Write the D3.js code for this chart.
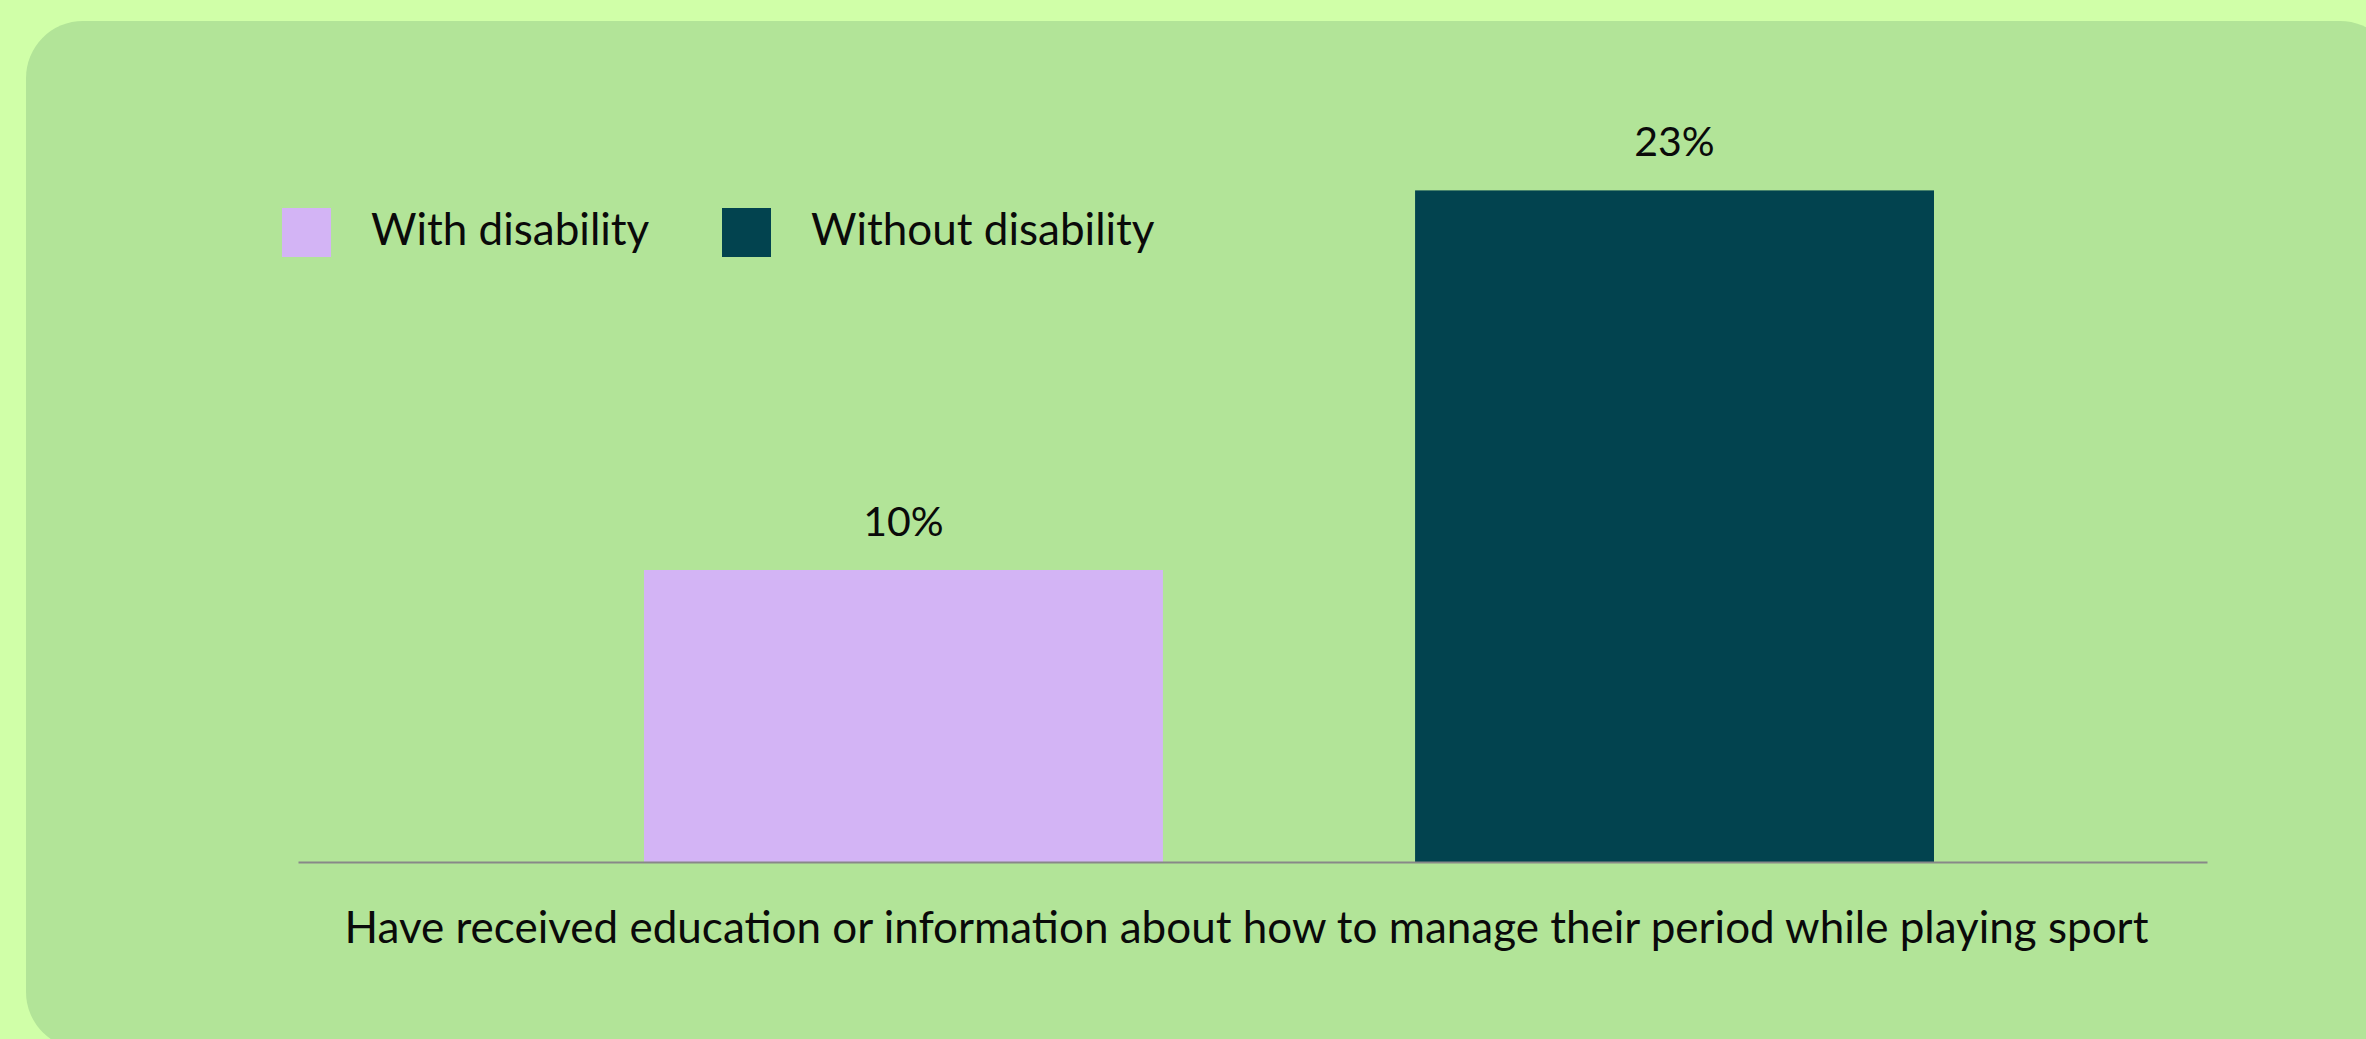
<!DOCTYPE html>
<html>
<head>
<meta charset="utf-8">
<script src="https://cdn.jsdelivr.net/npm/d3@7"></script>
<style>
  html, body { margin: 0; padding: 0; background: #d0ffa8; overflow: hidden; }
  svg { display: block; }
  text { font-family: Lato, "Noto Sans", sans-serif; fill: #0a0a0a; }
</style>
</head>
<body>
<svg id="chart" width="2366" height="1039"></svg>
<script>
// Data
const category = "Have received education or information about how to manage their period while playing sport";
const series = ["With disability", "Without disability"];
const values = [10, 23];
const valueLabels = ["10%", "23%"];
const colors = ["#d3b4f5", "#02434f"];

const W = 2366, H = 1039;
const svg = d3.select("#chart");

// Background card
svg.append("rect")
  .attr("x", 26).attr("y", 21)
  .attr("width", 2371).attr("height", 1028)
  .attr("rx", 57).attr("ry", 57)
  .attr("fill", "#b2e498");

// Plot geometry
const axisLeft = 298, axisRight = 2207, baseY = 862;
const barsLeft = 644, barsRight = 1934;

const x = d3.scaleBand()
  .domain(series)
  .range([barsLeft, barsRight])
  .paddingInner(0.327)
  .paddingOuter(0);

const y = d3.scaleLinear()
  .domain([0, 25])
  .range([baseY, baseY - 25 * 29.2]);

const data = series.map((s, i) => ({ s, v: values[i], label: valueLabels[i], c: colors[i] }));

// Bars
svg.append("g").selectAll("rect")
  .data(data)
  .join("rect")
  .attr("x", d => x(d.s))
  .attr("y", d => y(d.v))
  .attr("width", x.bandwidth())
  .attr("height", d => y(0) - y(d.v))
  .attr("fill", d => d.c);

// Value labels
svg.append("g").selectAll("text")
  .data(data)
  .join("text")
  .attr("x", d => x(d.s) + x.bandwidth() / 2)
  .attr("y", d => y(d.v) - 34)
  .attr("text-anchor", "middle")
  .attr("font-size", 41)
  .text(d => d.label);

// Baseline axis
const xAxisScale = d3.scaleLinear().domain([0, 1]).range([axisLeft, axisRight]);
const axis = svg.append("g")
  .attr("transform", `translate(0,${baseY})`)
  .call(d3.axisBottom(xAxisScale).tickValues([]).tickSizeOuter(0));
axis.select(".domain").attr("stroke", "#888888").attr("stroke-width", 2);

// Category label
svg.append("text")
  .attr("x", (axisLeft + axisRight) / 2 - 6)
  .attr("y", 943)
  .attr("text-anchor", "middle")
  .attr("font-size", 44)
  .text(category);

// Legend
const legendX = [282, 722];
const legend = svg.append("g").selectAll("g")
  .data(data)
  .join("g")
  .attr("transform", (d, i) => `translate(${legendX[i]},208)`);
legend.append("rect")
  .attr("width", 49).attr("height", 49)
  .attr("fill", d => d.c);
legend.append("text")
  .attr("x", 89)
  .attr("y", 37)
  .attr("font-size", 44)
  .text(d => d.s);
</script>
</body>
</html>
